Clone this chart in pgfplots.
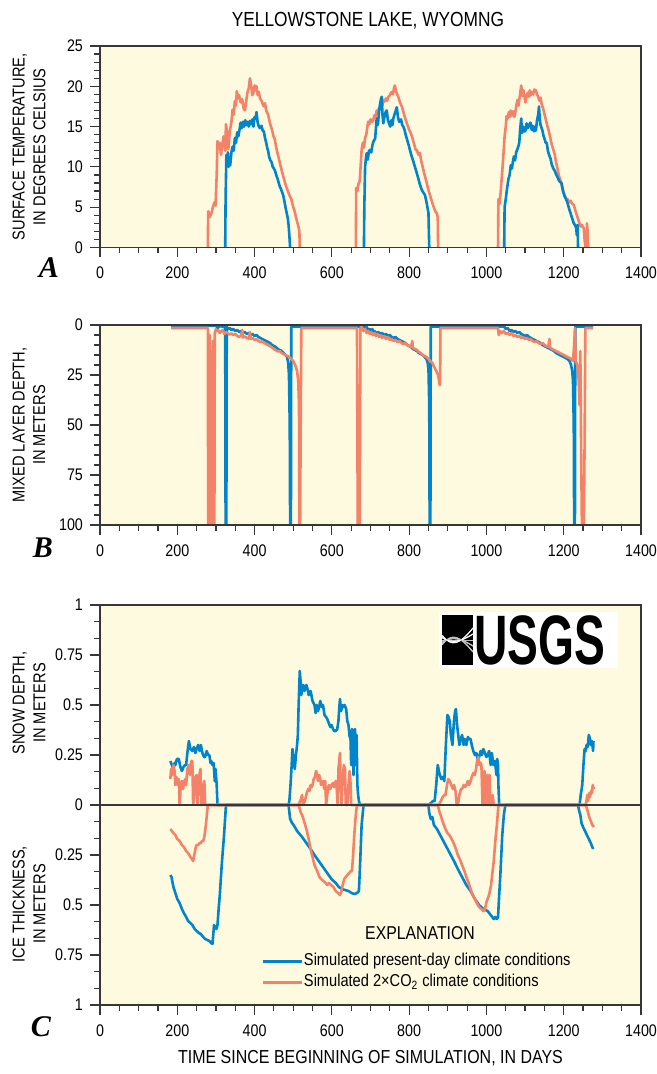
\documentclass[border=0pt]{standalone}
\usepackage{fontspec}
\setmainfont{Liberation Sans}[FakeStretch=0.85]
\newfontfamily\logofont{Liberation Sans}[FakeStretch=0.66]
\newfontfamily\letterfont{Liberation Serif}
\usepackage{pgfplots}
\pgfplotsset{compat=1.18}

\definecolor{bgyel}{RGB}{254,250,224}
\definecolor{axgray}{RGB}{55,55,55}
\definecolor{cblue}{RGB}{0,133,202}
\definecolor{cred}{RGB}{244,130,104}

\pgfplotsset{
  panel/.style={
    scale only axis, width=270.5pt,
    xmin=0, xmax=1400, xtick={0,200,...,1400}, minor x tick num=3,
    tick align=outside, xtick pos=left, ytick pos=left,
    axis on top,
    axis background/.style={fill=bgyel},
    axis line style={draw=axgray, line width=0.7pt},
    every tick/.style={axgray, line width=0.6pt},
    major tick length=5pt, minor tick length=2.8pt,
    tick label style={font=\fontsize{8.4}{10}\selectfont},
    xticklabel style={yshift=-1.2pt},
    /pgf/number format/assume math mode=true,
    /pgf/number format/1000 sep={},
    scaled ticks=false,
    unbounded coords=jump,
    every axis y label/.style={at={(axis description cs:-0.1312,0.5)},
      rotate=90, anchor=center, align=center,
      font=\fontsize{8.6}{10.35}\selectfont},
  },
  blu/.style={cblue, line width=1.3pt, line join=round},
  rd/.style={cred, line width=1.3pt, line join=round},
}

\begin{document}
\begin{tikzpicture}
\useasboundingbox (0,0) rectangle (328.5pt,-537pt);

% ---------------- A: surface temperature
\begin{axis}[panel, at={(50pt,-123.75pt)}, anchor=south west, height=100.75pt,
  ymin=0, ymax=25, ytick={0,5,...,25}, minor y tick num=4,
  ylabel={SURFACE TEMPERATURE,\\IN DEGREES CELSIUS}]
\addplot[rd] coordinates {
(279,0) (280,4.5) (284,3.8) (288,4.2) (292,5.0) (296,5.6) (299,5.2) (302,9) (304,13.2) (307,12.3)
(310,13.0) (313,11.5) (316,12.6) (320,13.8) (324,12.0) (326,15.3) (329,14.2) (332,12.2) (336,14.5)
(340,15.5) (343,17.1) (346,16.5) (349,18.2) (352,17.6) (354,19.4) (357,18.5) (360,18.9) (364,18.0)
(368,18.4) (372,17.2) (375,17.0) (378,18.0) (381,19.1) (385,19.8) (388,21.0) (391,20.2) (394,18.9)
(397,19.2) (400,20.1) (403,19.5) (405,20.0) (408,18.9) (411,19.3) (414,18.5) (418,18.2) (421,17.8)
(424,17.5) (427,17.9) (430,17.0) (433,16.7) (435,16.5) (440,15.4) (445,14.6) (449,13.8) (452,13.5)
(456,12.4) (460,11.6) (463,11.0) (467,10.2) (471,9.4) (475,8.7) (479,8.0) (483,7.4) (487,6.9)
(491,6.4) (495,6.0) (499,5.2) (503,4.6) (506,4.0) (510,3.2) (514,2.5) (516,2.0) (517,0) (520,nan)
(662,0) (663,7.4) (666,7.0) (669,7.9) (672,8.2) (675,10.5) (677,12.1) (680,13.0) (683,12.4) (686,13.6)
(689,14.0) (692,15.0) (694,15.6) (697,15.3) (700,15.9) (704,15.6) (707,15.8) (710,16.4) (713,16.2)
(716,17.0) (719,16.6) (722,17.3) (725,17.5) (728,17.8) (731,17.6) (733,18.3) (736,18.1) (740,18.5)
(743,18.2) (746,18.7) (749,18.8) (752,19.1) (755,19.3) (758,19.0) (761,19.8) (763,20.1) (766,19.4)
(769,19.0) (772,18.7) (775,18.2) (778,17.8) (781,17.5) (784,17.0) (787,16.5) (790,16.0) (794,15.4)
(797,15.0) (800,14.6) (804,14.2) (807,13.8) (810,13.3) (813,12.8) (817,12.1) (820,12.1) (824,11.5)
(828,11.7) (831,10.8) (834,10.2) (837,9.6) (840,9.0) (844,8.3) (847,7.7) (850,7.1) (854,6.5) (857,6.0)
(860,5.5) (863,5.1) (866,4.7) (869,4.4) (871,4.3) (874,3.8) (875,0) (880,nan)
(1030,0) (1031,6.0) (1034,5.4) (1037,7.0) (1041,9.5) (1044,11.5) (1047,13.8) (1050,15.0) (1052,16.3)
(1055,16.0) (1058,16.8) (1061,16.2) (1063,17.0) (1066,16.4) (1069,16.9) (1072,16.2) (1074,16.5)
(1077,17.5) (1080,18.3) (1083,17.6) (1087,19.0) (1090,20.1) (1093,18.8) (1096,19.5) (1099,18.6)
(1101,18.0) (1104,18.8) (1107,19.2) (1110,18.7) (1112,19.5) (1115,18.9) (1118,19.3) (1121,19.0)
(1124,19.6) (1128,19.5) (1131,19.0) (1134,18.7) (1137,18.2) (1140,18.6) (1143,17.8) (1145,17.5)
(1148,17.0) (1151,16.4) (1154,15.8) (1157,15.2) (1161,14.5) (1164,13.9) (1167,13.2) (1170,12.6)
(1174,12.0) (1177,11.5) (1180,10.6) (1184,9.8) (1187,9.0) (1191,8.4) (1194,8.0) (1197,7.4) (1200,6.8)
(1204,6.3) (1207,6.0) (1210,6.0) (1214,5.6) (1218,5.8) (1222,5.4) (1226,5.3) (1230,4.6) (1234,4.0)
(1238,3.4) (1241,3.0) (1244,2.6) (1247,2.8) (1250,2.5) (1252,2.4) (1254,1.0) (1256,0) (1258,nan)
(1259,0) (1260,3.0) (1262,2.0) (1263,0)
};
\addplot[blu] coordinates {
(324,0) (325,6) (327,11.5) (329,10.3) (331,11.8) (333,10.0) (335,11.2) (337,10.2) (340,11.8) (343,12.5)
(346,12.0) (349,13.6) (352,13.0) (355,14.3) (358,13.8) (361,14.6) (364,15.5) (367,14.8) (370,15.6)
(373,15.0) (376,15.8) (379,15.2) (382,15.6) (385,15.0) (388,15.7) (391,15.3) (394,15.9) (397,15.0)
(400,16.2) (403,16.0) (405,16.8) (408,15.5) (411,15.0) (414,14.8) (418,15.1) (421,14.5) (424,14.4)
(427,13.6) (430,13.0) (433,12.3) (435,12.0) (438,11.2) (441,10.8) (444,10.6) (447,10.0) (450,9.8)
(453,9.5) (456,9.0) (459,8.6) (462,8.1) (465,7.6) (468,7.3) (471,6.9) (474,6.5) (477,5.8) (480,5.0)
(483,4.3) (486,3.6) (488,2.8) (490,1.5) (492,0) (495,nan)
(683,0) (684,5) (686,10.0) (688,11.0) (690,11.7) (693,10.9) (696,12.0) (699,12.1) (702,11.8) (705,12.7)
(708,13.2) (712,13.5) (714,14.8) (716,16.0) (719,15.2) (722,16.8) (725,17.9) (727,18.4) (729,18.7)
(731,16.5) (733,15.4) (736,16.2) (739,16.8) (742,17.0) (745,15.8) (748,15.4) (751,15.0) (754,15.8)
(757,15.2) (759,16.0) (762,16.5) (765,16.9) (768,17.4) (771,16.2) (774,15.6) (776,15.6) (779,15.9)
(782,15.2) (785,15.0) (788,14.6) (791,14.0) (794,13.5) (797,13.0) (800,12.5) (802,12.1) (806,11.4)
(810,10.8) (815,10.0) (820,9.2) (824,8.5) (828,7.8) (833,7.1) (837,6.8) (841,6.5) (845,5.6) (848,4.8)
(850,4.3) (851,2.0) (852,0) (855,nan)
(1046,0) (1047,5.0) (1050,6.0) (1053,7.2) (1057,8.5) (1060,9.0) (1063,10.2) (1066,9.8) (1068,10.5)
(1071,11.3) (1074,10.8) (1077,11.8) (1080,12.2) (1083,12.6) (1085,13.0) (1087,14.5) (1090,16.0)
(1092,14.2) (1095,15.0) (1098,14.4) (1101,14.5) (1104,15.4) (1107,14.8) (1110,15.2) (1114,15.5)
(1117,14.6) (1120,15.1) (1123,14.4) (1126,15.0) (1128,14.5) (1131,15.8) (1134,16.5) (1136,17.5)
(1138,16.0) (1140,15.2) (1143,14.8) (1145,14.5) (1148,13.8) (1151,13.4) (1153,13.0) (1156,13.0)
(1159,12.0) (1162,11.5) (1166,11.0) (1169,10.3) (1173,9.8) (1177,9.5) (1181,9.0) (1185,8.6) (1189,8.2)
(1194,8.0) (1198,7.0) (1202,6.4) (1206,6.0) (1210,5.5) (1214,4.8) (1218,4.2) (1222,3.6) (1226,3.0)
(1229,2.8) (1232,2.5) (1234,1.5) (1236,2.8) (1237,0)
};
\end{axis}

% ---------------- B: mixed layer depth
\begin{axis}[panel, at={(50pt,-262.5pt)}, anchor=south west, height=100pt,
  y dir=reverse, ymin=0, ymax=100, ytick={0,25,...,100}, minor y tick num=4,
  ylabel={MIXED LAYER DEPTH,\\IN METERS}]
\addplot[blu] coordinates {
(184,0.3) (300,0.3) (305,1.5) (310,0.5) (320,1) (324,0.5) (325,100) (327,100) (328,1) (332,2) (336,1.5)
(340,2.5) (345,2) (350,3) (355,2.5) (360,3.5) (365,3) (370,4) (375,3.5) (380,4.5) (385,4) (390,5)
(395,4.5) (400,5.5) (405,5) (410,6) (415,6.5) (420,7) (425,7.5) (430,8) (435,8.5) (440,9) (445,10)
(450,10.5) (455,11) (460,12) (465,12.5) (470,13) (475,14) (480,15) (484,16) (487,19) (489,25) (491,50)
(492,100) (494,100) (495,0.8) (683,0.8) (686,1.5) (690,1) (694,2.5) (698,2) (702,3) (705,2) (708,5)
(710,3) (715,4) (720,3.5) (725,4.5) (730,4) (735,5) (740,4.5) (745,5.5) (750,5) (755,6) (760,6.5)
(765,6) (770,7) (775,7.5) (780,8) (785,8.5) (790,9) (795,10) (800,10.5) (805,11) (810,12) (815,12.5)
(820,13) (825,14) (830,14.5) (835,15) (840,16) (845,17) (848,19) (850,22) (852,40) (853,100) (855,100)
(856,0.8) (1046,0.8) (1050,2) (1055,1.5) (1060,3) (1065,2.5) (1070,3.5) (1075,3) (1080,4) (1085,3.5)
(1090,4.5) (1095,5) (1100,5.5) (1105,5) (1110,6) (1115,6.5) (1120,7) (1125,7.5) (1130,8) (1135,8.5)
(1140,9) (1145,10) (1150,10.5) (1155,11) (1160,11.5) (1165,12) (1170,12.5) (1175,13) (1180,14)
(1185,14.5) (1190,15) (1195,15.5) (1200,16) (1205,16.5) (1210,17) (1215,18) (1219,20) (1222,23)
(1224,28) (1226,50) (1227,100) (1229,100) (1230,0.8) (1276,0.8)
};
\addplot[rd] coordinates {
(184,1.5) (279,1.5) (280,100) (283,100) (284,5) (286,100) (290,100) (292,8) (294,100) (296,100)
(297,4) (300,2) (303,3) (306,2.5) (310,4) (314,3) (318,2.6) (322,4.5) (326,3.5) (330,4.0) (335,4.8)
(340,4.2) (345,5.0) (350,4.5) (355,5.5) (360,6.0) (365,5.3) (368,2.5) (370,6.2) (375,5.8) (380,6.5)
(385,6.8) (388,3.5) (390,7.0) (395,6.5) (400,7.5) (405,7.2) (410,8.0) (415,8.5) (420,8.2) (425,9.0)
(430,9.5) (435,10.0) (440,10.5) (445,11.2) (450,12.0) (455,12.6) (460,13.2) (465,13.0) (470,14.0)
(475,14.5) (480,15.0) (485,15.5) (490,16.0) (495,17.0) (500,18.0) (505,20.0) (510,23.0) (513,28)
(515,40) (516,100) (518,100) (519,60) (521,1.5) (665,1.5) (667,100) (672,100) (674,1.5) (677,1.0)
(682,3) (686,2) (690,4) (694,3) (698,4.5) (702,3.5) (706,5) (710,4) (714,5.5) (718,4.5) (722,6)
(726,5) (730,6.5) (735,5.5) (740,7) (745,6) (750,7.5) (755,7) (760,8) (765,7.5) (770,8.5) (775,8)
(780,9) (785,9.5) (790,9) (795,10) (800,10.5) (805,11) (808,8) (810,11.5) (815,12) (820,12.5)
(825,13.5) (830,14) (835,15) (840,15.5) (845,16) (850,17) (855,18) (860,19) (865,21) (870,23)
(875,25) (879,30) (880,30) (881,1.5) (1030,1.5) (1032,5) (1035,3) (1040,4) (1045,3) (1050,4.5)
(1055,4) (1060,5) (1065,4) (1070,5.5) (1075,5) (1080,6) (1085,5.5) (1090,6.5) (1095,6) (1100,7)
(1105,6.5) (1110,7.5) (1115,7) (1120,8) (1125,8.5) (1130,8) (1135,9) (1140,9.5) (1145,9) (1150,10)
(1155,10.5) (1160,11) (1163,7) (1165,11.5) (1170,12) (1175,12.5) (1180,13) (1185,13.5) (1190,14)
(1195,14.5) (1200,15) (1205,15.5) (1210,16) (1215,16.5) (1220,17) (1224,18) (1227,10) (1229,1.5)
(1231,18) (1235,20) (1238,25) (1241,40) (1243,13) (1245,60) (1247,100) (1252,100) (1254,60)
(1256,1.5) (1276,1.5)
};
\end{axis}

% ---------------- C: snow depth / ice thickness
\begin{axis}[panel, at={(50pt,-502.5pt)}, anchor=south west, height=200pt,
  ymin=-1, ymax=1, ytick={-1,-0.75,-0.5,-0.25,0,0.25,0.5,0.75,1},
  yticklabels={1,0.75,0.5,0.25,0,0.25,0.5,0.75,1}, minor y tick num=2,
  legend style={draw=none, fill=none, at={(axis description cs:0.2865,0.1425)},
    anchor=north west, font=\fontsize{8.6}{10}\selectfont, row sep=1.3pt,
    nodes={inner sep=0.5pt, text height=6.2pt, text depth=2pt}},
  legend cell align=left,
  legend image code/.code={\draw[#1] (0pt,0pt) -- (19.5pt,0pt);}]
\addplot[blu] coordinates {
(182,0.22) (186,0.2) (190,0.18) (193,0.21) (195,0.2) (199,0.23) (204,0.23) (208,0.19) (212,0.17)
(216,0.19) (220,0.2) (223,0.2) (226,0.26) (230,0.32) (234,0.28) (239,0.27) (243,0.29) (247,0.26)
(250,0.28) (254,0.3) (258,0.27) (261,0.3) (265,0.26) (269,0.24) (272,0.24) (276,0.27) (280,0.25)
(283,0.25) (286,0.21) (288,0.22) (291,0.2) (294,0.21) (297,0.12) (299,0.18) (302,0.1) (304,0)
(488,0) (490,0.02) (493,0.1) (496,0.2) (498,0.28) (501,0.22) (504,0.18) (507,0.25) (510,0.3)
(512,0.35) (514,0.5) (517,0.67) (519,0.62) (521,0.55) (523,0.58) (526,0.6) (529,0.57) (532,0.59)
(534,0.6) (537,0.58) (540,0.55) (545,0.57) (550,0.52) (555,0.5) (558,0.46) (561,0.5) (564,0.47)
(566,0.48) (570,0.52) (574,0.49) (577,0.5) (581,0.45) (585,0.44) (588,0.43) (592,0.41) (596,0.39)
(599,0.4) (603,0.38) (606,0.37) (610,0.37) (614,0.38) (617,0.42) (619,0.48) (621,0.53) (624,0.47)
(627,0.5) (630,0.49) (633,0.5) (637,0.48) (640,0.42) (643,0.4) (646,0.34) (648,0.35) (650,0.2)
(652,0.38) (654,0.3) (656,0.15) (658,0.32) (660,0.38) (662,0.2) (664,0.35) (666,0.1) (668,0.05)
(670,0.02) (673,0) (850,0) (856,0.01) (862,0.02) (866,0.02) (870,0.1) (874,0.2) (878,0.16)
(883,0.13) (887,0.14) (891,0.12) (895,0.3) (899,0.45) (902,0.44) (905,0.42) (908,0.35) (912,0.3)
(916,0.42) (919,0.47) (921,0.48) (924,0.4) (927,0.35) (930,0.3) (933,0.33) (937,0.35) (941,0.3)
(944,0.33) (948,0.3) (952,0.34) (955,0.33) (959,0.33) (962,0.3) (966,0.27) (970,0.25) (974,0.26)
(978,0.22) (981,0.24) (985,0.27) (988,0.25) (992,0.28) (996,0.26) (1000,0.24) (1003,0.25)
(1007,0.27) (1011,0.2) (1014,0.26) (1018,0.2) (1022,0.22) (1026,0.15) (1028,0.23) (1030,0.2)
(1031,0.1) (1033,0) (1241,0) (1244,0.05) (1248,0.1) (1251,0.2) (1254,0.28) (1257,0.27) (1259,0.3)
(1262,0.29) (1265,0.35) (1268,0.33) (1270,0.3) (1273,0.32) (1276,0.27) (1277,0.32)
};
\addlegendentry{Simulated present-day climate conditions}
\addplot[rd] coordinates {
(182,0.13) (184,0.18) (187,0.15) (190,0.2) (193,0.17) (195,0.1) (198,0.14) (201,0.1) (204,0.13)
(206,0.0) (209,0.1) (212,0.12) (215,0.08) (218,0.12) (221,0.13) (223,0.1) (226,0.18) (230,0.2)
(233,0.15) (236,0.22) (239,0.22) (241,0.0) (244,0.05) (247,0.14) (250,0.15) (252,0.0) (255,0.1)
(258,0.16) (260,0.18) (262,0.0) (265,0.0) (268,0.1) (270,0.12) (272,0.0) (279,0.0)
(514,0) (516,0.01) (520,0.03) (523,0.05) (525,0.0) (530,0.02) (535,0.06) (539,0.08) (542,0.07)
(545,0.1) (548,0.09) (550,0.1) (553,0.13) (556,0.14) (559,0.17) (561,0.16) (564,0.12) (567,0.15)
(570,0.13) (572,0.1) (575,0.11) (578,0.12) (580,0.08) (583,0.12) (585,0.0) (588,0.05) (592,0.1)
(596,0.08) (599,0.1) (603,0.11) (606,0.09) (610,0.12) (612,0.1) (615,0.0) (617,0.18) (619,0.22)
(621,0.26) (623,0.1) (625,0.0) (628,0.12) (631,0.2) (634,0.18) (636,0.0) (640,0.0) (643,0.1)
(646,0.17) (648,0.12) (650,0.0) (654,0.0) (874,0) (877,0.0) (882,0.02) (887,0.04) (891,0.05)
(894,0.05) (898,0.1) (901,0.13) (905,0.12) (909,0.1) (913,0.08) (916,0.1) (920,0.07) (923,0.0)
(926,0.0) (930,0.05) (934,0.08) (937,0.08) (941,0.1) (945,0.09) (948,0.1) (952,0.12) (955,0.1)
(959,0.12) (962,0.14) (966,0.16) (970,0.15) (973,0.18) (976,0.22) (979,0.24) (982,0.2) (985,0.21)
(987,0.2) (990,0.0) (992,0.0) (995,0.17) (997,0.1) (999,0.0) (1002,0.15) (1004,0.0) (1006,0.12)
(1008,0.15) (1010,0.0) (1014,0.0) (1016,0.05) (1019,0.0) (1031,0) (1256,0) (1258,0.01) (1261,0.05)
(1263,0.02) (1266,0.06) (1268,0.04) (1271,0.07) (1273,0.06) (1275,0.1) (1278,0.08)
};
\addlegendentry{Simulated 2×CO\textsubscript{2} climate conditions}
\addplot[blu, forget plot] coordinates {
(182,-0.35) (185,-0.36) (190,-0.41) (195,-0.44) (200,-0.47) (206,-0.49) (212,-0.52) (217,-0.54)
(223,-0.56) (228,-0.58) (234,-0.59) (239,-0.6) (245,-0.62) (250,-0.63) (256,-0.64) (261,-0.645)
(267,-0.66) (272,-0.67) (278,-0.675) (283,-0.68) (288,-0.69) (291,-0.695) (293,-0.65) (295,-0.6)
(298,-0.61) (301,-0.62) (304,-0.6) (307,-0.52) (310,-0.45) (315,-0.3) (321,-0.15) (326,0)
(488,0) (492,-0.07) (497,-0.09) (501,-0.1) (510,-0.13) (523,-0.16) (534,-0.19) (545,-0.22)
(555,-0.25) (566,-0.28) (577,-0.31) (588,-0.34) (599,-0.37) (610,-0.39) (618,-0.41) (626,-0.42)
(634,-0.425) (643,-0.43) (651,-0.44) (659,-0.445) (665,-0.44) (670,-0.43) (673,-0.3) (677,-0.1)
(682,0) (850,0) (852,-0.04) (856,-0.07) (860,-0.06) (864,-0.1) (872,-0.12) (883,-0.16) (894,-0.2)
(905,-0.24) (916,-0.28) (926,-0.32) (937,-0.36) (948,-0.4) (959,-0.43) (970,-0.47) (981,-0.5)
(992,-0.52) (1003,-0.53) (1011,-0.55) (1019,-0.57) (1023,-0.56) (1027,-0.57) (1030,-0.56)
(1033,-0.45) (1036,-0.35) (1041,-0.15) (1045,-0.05) (1049,0) (1237,0) (1240,-0.03) (1243,-0.05)
(1246,-0.09) (1250,-0.11) (1255,-0.13) (1260,-0.15) (1265,-0.17) (1270,-0.19) (1276,-0.22)
};
\addplot[rd, forget plot] coordinates {
(182,-0.12) (186,-0.13) (190,-0.14) (195,-0.15) (200,-0.17) (206,-0.18) (212,-0.2) (217,-0.21)
(223,-0.23) (228,-0.24) (234,-0.26) (238,-0.27) (241,-0.28) (243,-0.26) (246,-0.23) (248,-0.21)
(250,-0.2) (254,-0.2) (258,-0.19) (261,-0.19) (264,-0.18) (267,-0.18) (270,-0.16) (272,-0.13)
(274,-0.1) (277,-0.04) (279,0) (514,0) (517,-0.02) (520,-0.04) (523,-0.05) (528,-0.08) (534,-0.12)
(540,-0.17) (545,-0.22) (550,-0.26) (555,-0.3) (562,-0.33) (568,-0.36) (572,-0.37) (578,-0.38)
(584,-0.39) (588,-0.4) (593,-0.39) (598,-0.4) (604,-0.41) (610,-0.43) (616,-0.44) (621,-0.45)
(625,-0.43) (628,-0.4) (632,-0.37) (636,-0.36) (640,-0.35) (645,-0.34) (649,-0.33) (652,-0.33)
(655,-0.25) (658,-0.15) (661,-0.07) (663,-0.03) (665,0) (874,0) (878,-0.03) (883,-0.06) (888,-0.09)
(894,-0.12) (899,-0.14) (904,-0.15) (910,-0.17) (915,-0.19) (921,-0.22) (926,-0.25) (931,-0.27)
(937,-0.3) (943,-0.33) (948,-0.36) (954,-0.39) (959,-0.42) (964,-0.45) (970,-0.47) (975,-0.49)
(981,-0.51) (987,-0.52) (992,-0.53) (996,-0.52) (1001,-0.48) (1005,-0.46) (1008,-0.44) (1012,-0.4)
(1016,-0.33) (1019,-0.28) (1023,-0.18) (1027,-0.1) (1031,0) (1256,0) (1259,-0.01) (1262,-0.03)
(1266,-0.06) (1270,-0.08) (1274,-0.1) (1278,-0.11)
};
\addplot[forget plot, draw=axgray, line width=0.8pt] coordinates {(0,0) (1400,0)};
\end{axis}

% titles, labels, panel letters
\node[font=\fontsize{10.2}{12}\selectfont] at (184pt,-10.25pt) {YELLOWSTONE LAKE, WYOMNG};
\node[font=\fontsize{9.4}{11}\selectfont] at (185.25pt,-529pt) {TIME SINCE BEGINNING OF SIMULATION, IN DAYS};
\node[rotate=90, align=center, font=\fontsize{8.6}{10.35}\selectfont] at (14.5pt,-351.5pt) {SNOW DEPTH,\\IN METERS};
\node[rotate=90, align=center, font=\fontsize{8.6}{10.35}\selectfont] at (14.5pt,-452pt) {ICE THICKNESS,\\IN METERS};
\node[font=\letterfont\bfseries\itshape\fontsize{15}{15}\selectfont] at (24.5pt,-134pt) {A};
\node[font=\letterfont\bfseries\itshape\fontsize{15}{15}\selectfont] at (21.5pt,-274pt) {B};
\node[font=\letterfont\bfseries\itshape\fontsize{15}{15}\selectfont] at (20.5pt,-513.5pt) {C};
\node[font=\fontsize{9.3}{11}\selectfont] at (210pt,-466.5pt) {EXPLANATION};

% USGS identifier
\fill[white] (219.5pt,-306pt) rectangle (309pt,-334pt);
\fill[black] (221pt,-307.5pt) rectangle (236.5pt,-332.5pt);
\begin{scope}
\clip (221pt,-307.5pt) rectangle (236.5pt,-332.5pt);
\foreach \d in {-2,-1,0,1,2}{
  \draw[white, line width=0.5pt] (221pt,-320pt+1.2*\d pt) .. controls (226pt,-320pt-2*\d pt) and (230pt,-320pt-1*\d pt) .. (236.5pt,-320pt+3*\d pt);
  \draw[white!75!black, line width=0.5pt] (221pt,-320pt-1.2*\d pt) .. controls (226pt,-320pt+2*\d pt) and (230pt,-320pt+1*\d pt) .. (236.5pt,-320pt-3*\d pt);
}
\end{scope}
\node[anchor=west, inner sep=0pt, font=\logofont\bfseries\fontsize{35}{35}\selectfont] at (237pt,-320pt) {USGS};
\end{tikzpicture}
\end{document}
